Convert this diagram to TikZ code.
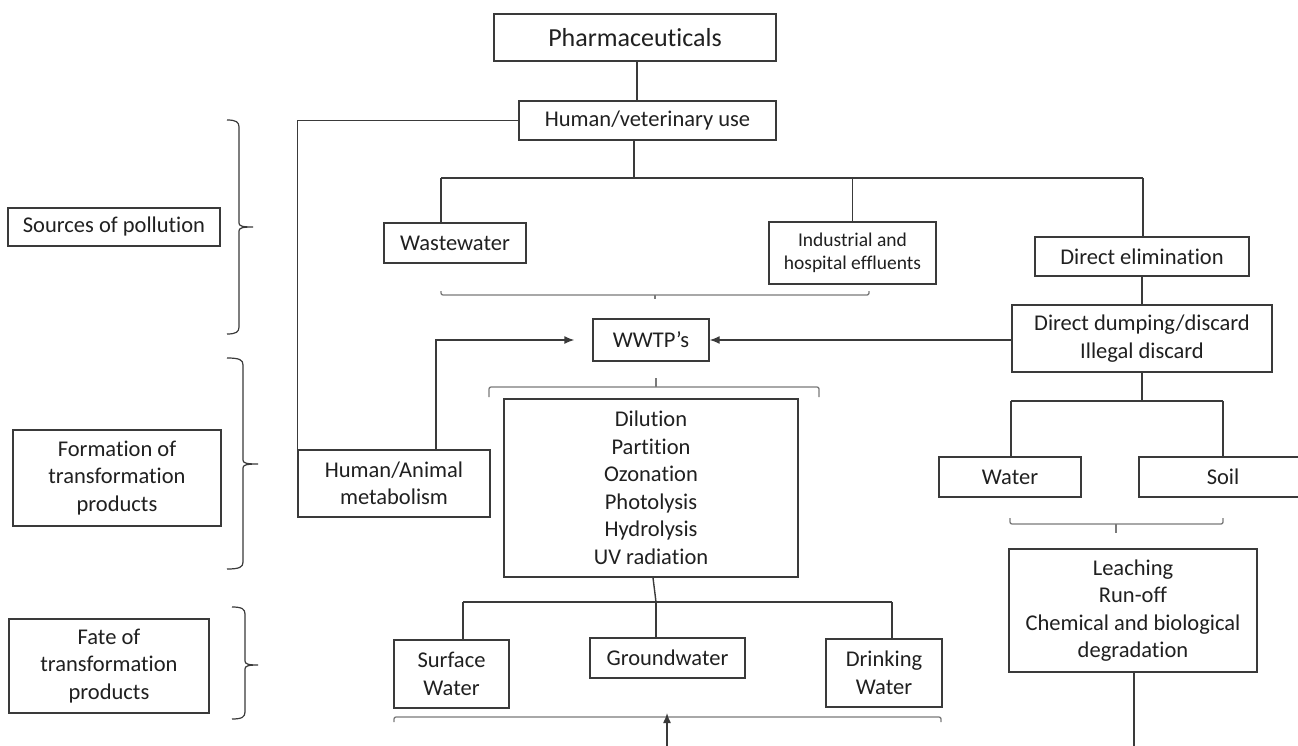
\documentclass[tikz,border=0pt]{standalone}
\usepackage{fontspec}
\setmainfont[Ligatures=NoCommon]{Carlito}
\usetikzlibrary{arrows.meta}
\definecolor{linec}{HTML}{3A3A3A}
\definecolor{txtc}{HTML}{202020}
\definecolor{bracec}{HTML}{7A7A7A}
\newcommand{\sidebr}[6]{\draw[sidebrace] (#1,#4) .. controls ({#2-3},#4) and (#2,{#4+2}) .. (#2,{#4+7}) -- (#2,{#5-4}) .. controls (#2,{#5-1}) and ({#2+3},#5) .. (#3,#5) .. controls ({#2+3},#5) and (#2,{#5+1}) .. (#2,{#5+4}) -- (#2,{#6-7}) .. controls (#2,{#6-2}) and ({#2-3},#6) .. (#1,#6);}
\begin{document}
\begin{tikzpicture}[x=1pt,y=-1pt,
  box/.style={draw=linec, line width=1.4pt, inner sep=0pt, align=center, text=txtc, font=\fontsize{22.5}{27.5}\selectfont},
  conn/.style={draw=linec, line width=1.4pt},
  arr/.style={conn, -{Latex[length=10pt,width=8pt]}},
  brc/.style={draw=bracec, line width=1.3pt, rounded corners=2pt},
  sidebrace/.style={draw=linec, line width=1.2pt}]
\fill[white] (0,0) rectangle (1298,746);
\clip (0,0) rectangle (1298,746);
% nodes
\node[box, minimum width=282, minimum height=47, font=\fontsize{26}{30}\selectfont] (pharma) at (635,37.5) {Pharmaceuticals};
\node[box, minimum width=257, minimum height=39] (hv) at (647.5,120.5) {Human/veterinary use};
\node[box, minimum width=142, minimum height=40] (ww) at (455,243) {Wastewater};
\node[box, minimum width=167, minimum height=62, font=\fontsize{19.5}{23}\selectfont] (ind) at (852.5,253) {Industrial and\\hospital effluents};
\node[box, minimum width=214, minimum height=39] (de) at (1142,256.5) {Direct elimination};
\node[box, minimum width=260, minimum height=67] (ddd) at (1142,338.5) {Direct dumping/discard\\Illegal discard};
\node[box, minimum width=116, minimum height=42] (wwtp) at (651,340) {WWTP’s};
\node[box, minimum width=192, minimum height=67] (meta) at (394,483.5) {Human/Animal\\metabolism};
\node[box, minimum width=294, minimum height=178] (dil) at (651,488) {Dilution\\Partition\\Ozonation\\Photolysis\\Hydrolysis\\UV radiation};
\node[box, minimum width=142, minimum height=40] (water) at (1010,477) {Water};
\node[box, minimum width=168, minimum height=40] (soil) at (1223,477) {Soil};
\node[box, minimum width=248, minimum height=123] (leach) at (1133,610.5) {Leaching\\Run-off\\Chemical and biological\\degradation};
\node[box, minimum width=115, minimum height=68] (surf) at (451.5,674) {Surface\\Water};
\node[box, minimum width=155, minimum height=40] (gw) at (667.5,658) {Groundwater};
\node[box, minimum width=116, minimum height=68] (drink) at (884,673) {Drinking\\Water};
\node[box, minimum width=212, minimum height=38] (src) at (114,227) {Sources of pollution};
\node[box, minimum width=208, minimum height=96] (form) at (117,478) {Formation of\\transformation\\products};
\node[box, minimum width=200, minimum height=94] (fate) at (109,666) {Fate of\\transformation\\products};
% connectors
\coordinate (xa) at (637,0);
\coordinate (xb) at (634,0);
\coordinate (b1) at (441,178);
\coordinate (b2) at (1143,178);
\draw[conn] (pharma.south -| xa) -- (hv.north -| xa);
\draw[conn] (hv.west) -| (meta.north west);
\draw[conn] (hv.south -| xb) -- (b1 -| xb);
\draw[conn] (b1) -- (b2);
\draw[conn] (b1) -- (b1 |- ww.north);
\draw[conn] (ind.north |- b1) -- (ind.north);
\draw[conn] (b2) -- (b2 |- de.north);
\draw[conn] (de.south) -- (ddd.north);
\draw[arr] (ddd.west |- wwtp.east) -- (wwtp.east);
\coordinate (ma) at (436,0);
\draw[arr] (meta.north -| ma) |- ([xshift=-18pt]wwtp.west);
% under-braces
\draw[brc] (441,291) -- (441,295) -- (869,295) -- (869,291);
\draw[brc] (655,295) -- (655,299);
\draw[brc] (489,397) -- (489,387) -- (819,387) -- (819,397);
\draw[brc] (656,387) -- (656,378);
% WWTP processes to water bodies
\coordinate (c2l) at (463,602);
\coordinate (c2m) at (656,602);
\coordinate (c2r) at (892,602);
\draw[conn] ([xshift=2pt]dil.south) -- (c2m);
\draw[conn] (c2l) -- (c2r);
\draw[conn] (c2l) -- (c2l |- surf.north);
\draw[conn] (c2m) -- (c2m |- gw.north);
\draw[conn] (c2r) -- (c2r |- drink.north);
% right branch
\coordinate (c3l) at (1011,401);
\coordinate (c3r) at (1223,401);
\draw[conn] (ddd.south) -- (ddd.south |- c3l);
\draw[conn] (c3l) -- (c3r);
\draw[conn] (c3l) -- (c3l |- water.north);
\draw[conn] (c3r) -- (soil.north);
\draw[brc] (1010,518) -- (1010,524) -- (1223,524) -- (1223,518);
\draw[brc] (1116,524) -- (1116,533);
\coordinate (lend) at (1134,746);
\draw[conn] (leach.south -| lend) -- (lend);
% bottom brace and arrow
\draw[brc] (394,722) -- (394,717) -- (941,717) -- (941,722);
\coordinate (aend) at (667,746);
\coordinate (atip) at (667,713);
\draw[arr] (aend) -- (atip);
% side braces
\sidebr{227}{239}{253}{120}{227}{334}
\sidebr{227}{243}{258}{358}{464}{569}
\sidebr{232}{245}{258}{607}{665}{719}
\end{tikzpicture}
\end{document}
